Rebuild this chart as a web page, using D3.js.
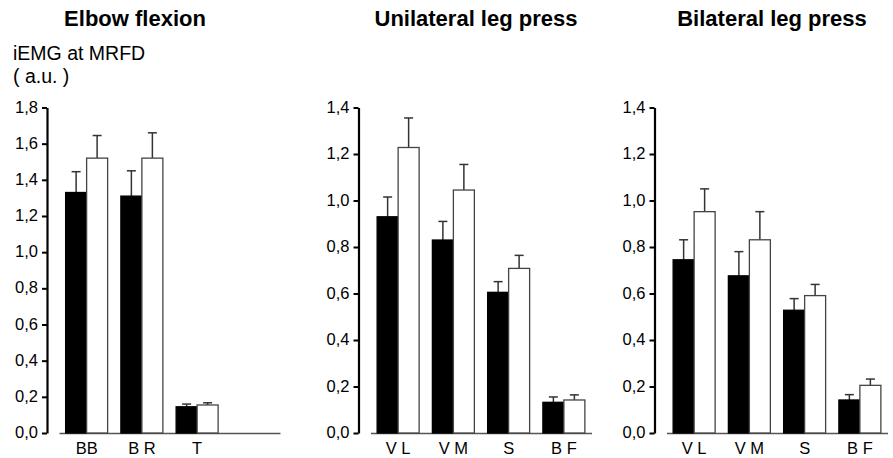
<!DOCTYPE html>
<html>
<head>
<meta charset="utf-8">
<script src="https://cdn.jsdelivr.net/npm/d3@7"></script>
<style>
  body { margin: 0; background: #fff; }
  svg text { font-family: "Liberation Sans", Arial, sans-serif; fill: #000; }
</style>
</head>
<body>
<div id="chart"></div>
<script>
// panel titles and muscles
var titles = ["Elbow flexion", "Unilateral leg press", "Bilateral leg press"];
var elbowMuscles = ["BB", "B R", "T", ""];   // last slot is empty
var legMuscles = ["V L", "V M", "S", "B F"];

// black bars (first condition) and white bars (second condition), with SE
var elbowBlack = [1.33, 1.31, 0.145];
var elbowBlackErr = [0.115, 0.14, 0.015];
var elbowWhite = [1.52, 1.52, 0.155];
var elbowWhiteErr = [0.125, 0.14, 0.012];

var uniBlack = [0.93, 0.83, 0.605, 0.132];
var uniBlackErr = [0.085, 0.08, 0.046, 0.023];
var uniWhite = [1.228, 1.045, 0.708, 0.142];
var uniWhiteErr = [0.127, 0.11, 0.056, 0.022];

var biBlack = [0.745, 0.676, 0.528, 0.142];
var biBlackErr = [0.086, 0.104, 0.05, 0.023];
var biWhite = [0.952, 0.831, 0.591, 0.205];
var biWhiteErr = [0.098, 0.121, 0.048, 0.027];

var elbowTicks = [0, 0.2, 0.4, 0.6, 0.8, 1.0, 1.2, 1.4, 1.6, 1.8];
var legTicks = [0, 0.2, 0.4, 0.6, 0.8, 1.0, 1.2, 1.4];

var yLabel1 = "iEMG at MRFD";
var yLabel2 = "( a.u. )";

var width = 893, height = 458;
var svg = d3.select("#chart").append("svg")
  .attr("width", width)
  .attr("height", height);

var comma = d3.formatLocale({decimal: ",", thousands: ".", grouping: [3], currency: ["", ""]}).format(".1f");

var panels = [
  {title: titles[0], cats: elbowMuscles, black: elbowBlack, blackErr: elbowBlackErr, white: elbowWhite, whiteErr: elbowWhiteErr, ticks: elbowTicks, axisX: 47, titleX: 135},
  {title: titles[1], cats: legMuscles, black: uniBlack, blackErr: uniBlackErr, white: uniWhite, whiteErr: uniWhiteErr, ticks: legTicks, axisX: 358.5, titleX: 476},
  {title: titles[2], cats: legMuscles, black: biBlack, blackErr: biBlackErr, white: biWhite, whiteErr: biWhiteErr, ticks: legTicks, axisX: 654.5, titleX: 772}
];

var y0 = 433, yTop = 107.5, plotW = 221, gap = 12;

panels.forEach(function(p) {
  var g = svg.append("g");

  var y = d3.scaleLinear()
    .domain([0, d3.max(p.ticks)])
    .range([y0, yTop]);

  var x = d3.scaleBand()
    .domain(p.cats)
    .range([p.axisX + gap, p.axisX + gap + plotW])
    .paddingInner(0.24)
    .paddingOuter(0.12);

  var sub = d3.scaleBand()
    .domain(["black", "white"])
    .range([0, x.bandwidth()]);

  // x axis (thin gray line, labels only)
  var xa = g.append("g")
    .attr("transform", "translate(0," + y0 + ")")
    .call(d3.axisBottom(x).tickSize(0).tickSizeOuter(0).tickPadding(9));
  xa.select(".domain").attr("stroke", "#555").attr("stroke-width", 1.5);
  xa.selectAll("text").style("font-size", "16.5px").attr("fill", "#000");

  // y axis
  var ya = g.append("g")
    .attr("transform", "translate(" + p.axisX + ",0)")
    .call(d3.axisLeft(y).tickValues(p.ticks).tickFormat(comma).tickSize(5).tickSizeOuter(0).tickPadding(4));
  ya.select(".domain").attr("stroke", "#000").attr("stroke-width", 2.2);
  ya.selectAll(".tick line").attr("stroke", "#000").attr("stroke-width", 2);
  ya.selectAll("text").style("font-size", "16.5px").attr("fill", "#000").attr("dy", "0.28em");

  var rows = [];
  p.black.forEach(function(v, i) {
    rows.push({cat: p.cats[i], s: "black", v: v, e: p.blackErr[i]});
    rows.push({cat: p.cats[i], s: "white", v: p.white[i], e: p.whiteErr[i]});
  });

  // error bars (upper only), drawn under the bars
  var eb = g.selectAll(".err").data(rows).enter().append("g").attr("class", "err")
    .attr("stroke", "#333").attr("stroke-width", 1.5);
  eb.append("line")
    .attr("x1", function(d) { return x(d.cat) + sub(d.s) + sub.bandwidth() / 2; })
    .attr("x2", function(d) { return x(d.cat) + sub(d.s) + sub.bandwidth() / 2; })
    .attr("y1", function(d) { return y(d.v); })
    .attr("y2", function(d) { return y(d.v + d.e); });
  eb.append("line")
    .attr("x1", function(d) { return x(d.cat) + sub(d.s) + sub.bandwidth() / 2 - 4.5; })
    .attr("x2", function(d) { return x(d.cat) + sub(d.s) + sub.bandwidth() / 2 + 4.5; })
    .attr("y1", function(d) { return y(d.v + d.e); })
    .attr("y2", function(d) { return y(d.v + d.e); });

  g.selectAll(".bar").data(rows).enter().append("rect").attr("class", "bar")
    .attr("x", function(d) { return x(d.cat) + sub(d.s); })
    .attr("y", function(d) { return y(d.v); })
    .attr("width", sub.bandwidth())
    .attr("height", function(d) { return y0 - y(d.v); })
    .attr("fill", function(d) { return d.s == "black" ? "#000" : "#fff"; })
    .attr("stroke", function(d) { return d.s == "black" ? "#000" : "#444"; })
    .attr("stroke-width", 1.3);

  g.append("text")
    .attr("x", p.titleX)
    .attr("y", 26)
    .attr("text-anchor", "middle")
    .style("font-size", "22px")
    .style("font-weight", "bold")
    .text(p.title);
});

svg.append("text").attr("x", 13).attr("y", 60).style("font-size", "19.5px").text(yLabel1);
svg.append("text").attr("x", 13).attr("y", 83).style("font-size", "19.5px").text(yLabel2);
</script>
</body>
</html>
